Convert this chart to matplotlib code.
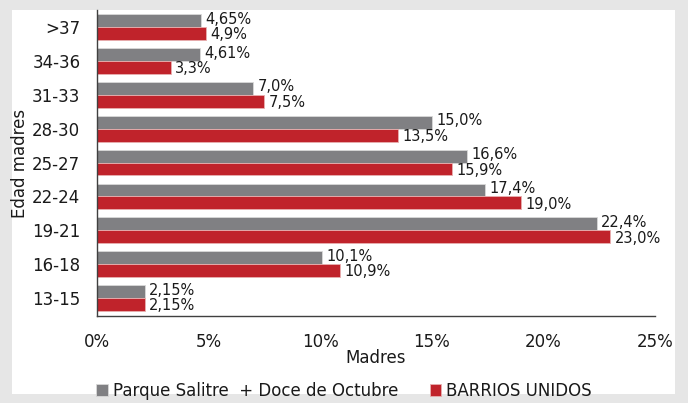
import matplotlib
matplotlib.use("Agg")
import matplotlib.pyplot as plt
from matplotlib.patches import Rectangle
import numpy as np

# age groups, bottom to top
edades = ['13-15', '16-18', '19-21', '22-24', '25-27', '28-30', '31-33', '34-36', '>37']
parque = [2.15, 10.1, 22.4, 17.4, 16.6, 15.0, 7.0, 4.61, 4.65]
barrios = [2.15, 10.9, 23.0, 19.0, 15.9, 13.5, 7.5, 3.3, 4.9]
parque_lbl = ['2,15%', '10,1%', '22,4%', '17,4%', '16,6%', '15,0%', '7,0%', '4,61%', '4,65%']
barrios_lbl = ['2,15%', '10,9%', '23,0%', '19,0%', '15,9%', '13,5%', '7,5%', '3,3%', '4,9%']
xticks = [0, 5, 10, 15, 20, 25]
xtick_lbl = ['0%', '5%', '10%', '15%', '20%', '25%']

gris = '#808083'
rojo = '#c0232b'
txt = '#1a1a1a'

fig = plt.figure(figsize=(6.88, 4.03), dpi=100, facecolor='#e6e6e6')
fig.patches.append(Rectangle((0.0174, 0.022), 0.964, 0.953, transform=fig.transFigure,
                             facecolor='white', edgecolor='none', zorder=-10))

ax = fig.add_axes([0.141, 0.216, 0.811, 0.759])
ax.set_facecolor('white')

y = np.arange(len(edades))
h = 0.38
ax.barh(y + h / 2, parque, height=h, color=gris, edgecolor='#d9d9d9', linewidth=0.6,
        label='Parque Salitre  + Doce de Octubre')
ax.barh(y - h / 2, barrios, height=h, color=rojo, edgecolor='#e8b0b0', linewidth=0.6,
        label='BARRIOS UNIDOS')

for i in range(len(edades)):
    ax.annotate(parque_lbl[i], (parque[i], y[i] + h / 2), xytext=(3, 1), textcoords='offset points',
                va='center', ha='left', fontsize=10.5, color=txt)
    ax.annotate(barrios_lbl[i], (barrios[i], y[i] - h / 2), xytext=(3, -1), textcoords='offset points',
                va='center', ha='left', fontsize=10.5, color=txt)

ax.set_xlim(0, 25)
ax.set_ylim(-0.53, 8.5)
ax.set_xticks(xticks)
ax.set_xticklabels(xtick_lbl)
ax.set_yticks(y)
ax.set_yticklabels(edades)
ax.tick_params(axis='both', length=0, labelsize=12, colors=txt)
ax.tick_params(axis='x', pad=12)
ax.tick_params(axis='y', pad=12)

for s in ['top', 'right']:
    ax.spines[s].set_visible(False)
for s in ['left', 'bottom']:
    ax.spines[s].set_color('#404040')
    ax.spines[s].set_linewidth(1.0)

ax.set_xlabel('Madres', fontsize=12, color=txt, labelpad=-1)
ax.set_ylabel('Edad madres', fontsize=12, color=txt, labelpad=2)

fig.legend(loc='center', bbox_to_anchor=(0.5, 0.03), ncol=2, frameon=False,
           fontsize=12, handlelength=0.7, handleheight=0.7, handletextpad=0.3,
           columnspacing=1.9, labelcolor=txt)

fig.savefig('out.png', dpi=100, facecolor=fig.get_facecolor())
